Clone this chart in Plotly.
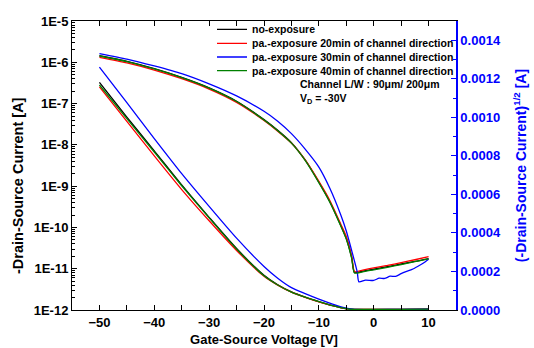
import plotly.graph_objects as go

# ---------------- data ----------------
SERIES_NAMES = ["no-exposure",
                "pa.-exposure 20min of channel direction",
                "pa.-exposure 30min of channel direction",
                "pa.-exposure 40min of channel direction"]

# log-scale transfer curves (left axis)
V_LOG = [-50, -45, -40, -35, -30, -25, -20, -17.5, -15, -12.5, -10, -8, -6, -5, -4, -3.5, -2, 0, 2.5, 5, 7.5, 10]
I_LOG_BLACK = [1.44e-6, 1.05e-6, 7.0e-7, 4.3e-7, 2.4e-7, 1.14e-7, 4.1e-8, 2.25e-8, 1.13e-8, 4.3e-9, 1.25e-9,
               4.2e-10, 1.11e-10, 5.4e-11, 1.8e-11, 8.1e-12, 8.7e-12, 9.7e-12, 1.12e-11, 1.3e-11, 1.5e-11, 1.76e-11]
I_LOG_RED = [1.32e-6, 9.7e-7, 6.5e-7, 4.0e-7, 2.25e-7, 1.07e-7, 3.9e-8, 2.15e-8, 1.1e-8, 4.3e-9, 1.3e-9,
             4.5e-10, 1.2e-10, 6.0e-11, 2.0e-11, 8.5e-12, 9.3e-12, 1.05e-11, 1.2e-11, 1.4e-11, 1.65e-11, 1.95e-11]
I_LOG_GREEN = [1.42e-6, 1.04e-6, 6.9e-7, 4.25e-7, 2.37e-7, 1.12e-7, 4.0e-8, 2.2e-8, 1.1e-8, 4.2e-9, 1.22e-9,
               4.1e-10, 1.08e-10, 5.2e-11, 1.75e-11, 7.9e-12, 8.4e-12, 9.4e-12, 1.08e-11, 1.26e-11, 1.48e-11, 1.74e-11]
V_LOG_BLUE = [-50, -45, -40, -35, -30, -25, -20, -17.5, -15, -12.5, -10, -8, -6, -5, -4, -3, -2.7,
              -1.5, 0, 1, 2, 3, 4, 5, 6, 7, 8, 9, 10]
I_LOG_BLUE = [1.63e-6, 1.20e-6, 8.15e-7, 5.3e-7, 3.0e-7, 1.53e-7, 6.5e-8, 3.74e-8, 1.87e-8, 7.9e-9, 2.9e-9,
              8.9e-10, 2.0e-10, 8.2e-11, 2.7e-11, 8.3e-12, 4.8e-12,
              5.3e-12, 5.2e-12, 5.9e-12, 5.8e-12, 6.6e-12, 6.5e-12, 7.6e-12, 8.6e-12, 9.6e-12, 1.13e-11, 1.35e-11, 1.69e-11]

# square-root transfer curves (right axis)
V_SQ = [-50, -45, -40, -35, -30, -25, -20, -17.5, -15, -12.5, -10, -7.5, -5, -3.5, 0, 5, 10]
SQ_BLACK = [1.181e-3, 1.001e-3, 8.26e-4, 6.49e-4, 4.81e-4, 3.19e-4, 1.80e-4, 1.31e-4, 9.37e-5, 6.69e-5,
            4.37e-5, 2.26e-5, 6.7e-6, 2.8e-6, 3.1e-6, 3.6e-6, 4.2e-6]
SQ_RED = [1.158e-3, 9.79e-4, 8.00e-4, 6.25e-4, 4.63e-4, 3.09e-4, 1.75e-4, 1.29e-4, 9.26e-5, 6.59e-5,
          4.27e-5, 2.21e-5, 6.2e-6, 2.9e-6, 3.2e-6, 3.7e-6, 4.4e-6]
SQ_BLUE = [1.261e-3, 1.076e-3, 8.90e-4, 7.08e-4, 5.38e-4, 3.73e-4, 2.26e-4, 1.65e-4, 1.16e-4, 8.49e-5,
           5.66e-5, 3.09e-5, 9.3e-6, 2.9e-6, 2.4e-6, 2.8e-6, 4.1e-6]
SQ_GREEN = [1.168e-3, 9.93e-4, 8.20e-4, 6.45e-4, 4.78e-4, 3.16e-4, 1.78e-4, 1.30e-4, 9.30e-5, 6.65e-5,
            4.33e-5, 2.23e-5, 6.5e-6, 2.8e-6, 3.1e-6, 3.5e-6, 4.2e-6]

X_TICKS = [-50, -40, -30, -20, -10, 0, 10]
Y_LOG_TICKS = [1e-12, 1e-11, 1e-10, 1e-9, 1e-8, 1e-7, 1e-6, 1e-5]
Y_LOG_LABELS = ["1E-12", "1E-11", "1E-10", "1E-9", "1E-8", "1E-7", "1E-6", "1E-5"]
Y_SQ_TICKS = [0, 0.0002, 0.0004, 0.0006, 0.0008, 0.0010, 0.0012, 0.0014]
Y_SQ_LABELS = ["0.0000", "0.0002", "0.0004", "0.0006", "0.0008", "0.0010", "0.0012", "0.0014"]

COLORS = ["#000000", "#ff0000", "#0000ff", "#008000"]
FONT = "Liberation Sans, Arial, sans-serif"

log_x = [V_LOG, V_LOG, V_LOG_BLUE, V_LOG]
log_y = [I_LOG_BLACK, I_LOG_RED, I_LOG_BLUE, I_LOG_GREEN]
sq_y = [SQ_BLACK, SQ_RED, SQ_BLUE, SQ_GREEN]
legend_ids = ["legend", "legend2", "legend3", "legend4"]

fig = go.Figure()
for i in range(4):
    fig.add_trace(go.Scatter(x=log_x[i], y=log_y[i], mode="lines", name=SERIES_NAMES[i],
                             line=dict(color=COLORS[i], width=1.3, shape="spline", smoothing=0.6),
                             xaxis="x", yaxis="y",
                             legend=legend_ids[i], legendgroup=str(i), showlegend=True))
for i in range(4):
    fig.add_trace(go.Scatter(x=V_SQ, y=sq_y[i], mode="lines", name=SERIES_NAMES[i],
                             line=dict(color=COLORS[i], width=1.3, shape="spline", smoothing=0.6),
                             xaxis="x", yaxis="y2",
                             legendgroup=str(i), showlegend=False))

def px2py(py):
    return (310 - py) / 289.0

leg_common = dict(x=(212 - 72) / 384.0, xanchor="left", yanchor="middle", bgcolor="rgba(0,0,0,0)",
                  borderwidth=0, font=dict(family=FONT, size=10.5, color="black", weight="bold"))
legend_rows = [29.3, 43.3, 57.0, 70.7]

fig.update_layout(
    width=534, height=348,
    margin=dict(l=72, r=78, t=21, b=38, pad=0),
    paper_bgcolor="white", plot_bgcolor="white",
    font=dict(family=FONT, size=13, color="black", weight="bold"),
    showlegend=True,
    legend=dict(y=px2py(legend_rows[0]), **leg_common),
    legend2=dict(y=px2py(legend_rows[1]), **leg_common),
    legend3=dict(y=px2py(legend_rows[2]), **leg_common),
    legend4=dict(y=px2py(legend_rows[3]), **leg_common),
    xaxis=dict(range=[-55, 15], tickmode="array", tickvals=X_TICKS, ticks="inside", ticklen=5,
               tickwidth=1, tickcolor="black",
               minor=dict(ticks="inside", ticklen=5, dtick=5, tick0=0, tickcolor="black", tickwidth=1),
               showline=True, linecolor="black", linewidth=1, mirror="ticks",
               showgrid=False, zeroline=False, automargin=False,
               tickfont=dict(family=FONT, size=13, color="black", weight="bold"),
               title=dict(text="Gate-Source Voltage [V]", standoff=6,
                          font=dict(family=FONT, size=13, color="black", weight="bold"))),
    yaxis=dict(type="log", range=[-12, -5], tickmode="array", tickvals=Y_LOG_TICKS, ticktext=Y_LOG_LABELS,
               ticks="inside", ticklen=5, tickwidth=1, tickcolor="black",
               minor=dict(ticks="inside", ticklen=3, dtick="D1", tickcolor="black", tickwidth=1),
               showline=True, linecolor="black", linewidth=1, mirror=False,
               showgrid=False, zeroline=False, automargin=False,
               tickfont=dict(family=FONT, size=13, color="black", weight="bold")),
    yaxis2=dict(overlaying="y", side="right", range=[0, 0.0015], tickmode="array", tickvals=Y_SQ_TICKS,
                ticktext=Y_SQ_LABELS, ticks="inside", ticklen=5, tickwidth=1, tickcolor="#0000ff",
                minor=dict(ticks="inside", ticklen=3, dtick=0.0001, tick0=0, tickcolor="#0000ff", tickwidth=1),
                showline=True, linecolor="#0000ff", linewidth=1.5,
                showgrid=False, zeroline=False, automargin=False,
                tickfont=dict(family=FONT, size=13, color="#0000ff", weight="bold"),
                title=dict(text="(-Drain-Source Current)<sup>1/2</sup> [A]", standoff=16,
                           font=dict(family=FONT, size=14, color="#0000ff", weight="bold"))),
    annotations=[
        dict(x=-54 / 384.0, y=px2py(186), xref="paper", yref="paper", xanchor="center", yanchor="middle",
             text="-Drain-Source Current [A]", textangle=-90, showarrow=False,
             font=dict(family=FONT, size=14.5, color="black", weight="bold")),
        dict(x=(298 - 72) / 384.0, y=px2py(84.3), xref="paper", yref="paper", xanchor="left", yanchor="middle",
             text="Channel L/W : 90\u03bcm/ 200\u03bcm", showarrow=False,
             font=dict(family=FONT, size=10.5, color="black", weight="bold")),
        dict(x=(298 - 72) / 384.0, y=px2py(98.5), xref="paper", yref="paper", xanchor="left", yanchor="middle",
             text="V<sub>D</sub> = -30V", showarrow=False,
             font=dict(family=FONT, size=10.5, color="black", weight="bold")),
    ],
)

fig.write_html("out.html", config={"displayModeBar": False},
               post_script="document.body.style.margin='0';document.body.style.overflow='hidden';")
